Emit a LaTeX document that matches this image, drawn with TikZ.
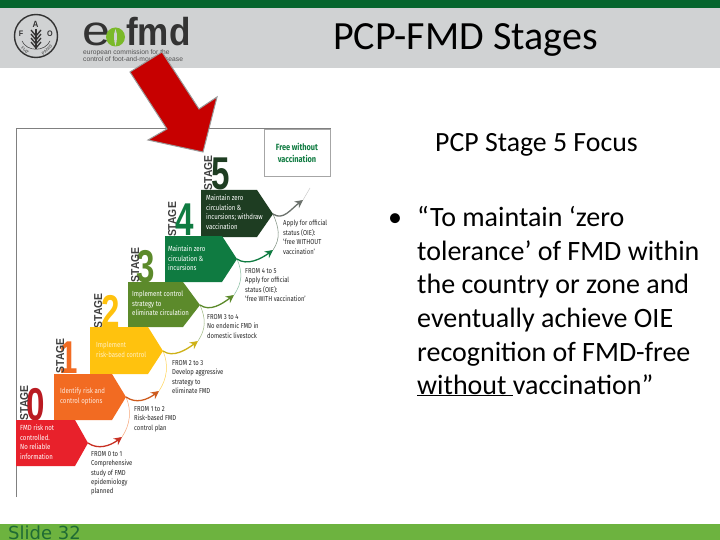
\documentclass[tikz,border=0pt]{standalone}
\usepackage{fontspec}
\setmainfont{Carlito}
\newfontfamily\cond[FakeStretch=0.82]{Fira Sans}
\newfontfamily\digit[FakeStretch=0.72]{Liberation Sans Bold}
\newfontfamily\stg[FakeStretch=0.9]{Liberation Sans Bold}
\newfontfamily\slidefont{DejaVu Sans}
\newfontfamily\logofont{Liberation Sans}
\newfontfamily\logowide[FakeStretch=1.2]{Liberation Sans}
\newfontfamily\logobold[FakeStretch=0.9]{Liberation Sans Bold}
\usetikzlibrary{arrows.meta}
\definecolor{topgreen}{HTML}{05652D}
\definecolor{headgray}{HTML}{D0D2D3}
\definecolor{footgreen}{HTML}{6DB33F}
\definecolor{slidegreen}{HTML}{1F6B34}
\definecolor{cfive}{HTML}{1E3D22}
\definecolor{cfour}{HTML}{0F7B41}
\definecolor{cthree}{HTML}{5C8A2B}
\definecolor{ctwo}{HTML}{FFC20E}
\definecolor{cone}{HTML}{F26B22}
\definecolor{czero}{HTML}{E8212B}
\definecolor{logodark}{HTML}{333333}
\definecolor{logogreen}{HTML}{7AB929}
\tikzset{
  chevtext/.style={anchor=north west,align=left,inner sep=0pt,text=white,font=\cond\fontsize{7.4}{9.4}\selectfont},
  fromtext/.style={anchor=north west,align=left,inner sep=0pt,text=black!85,font=\cond\fontsize{7.2}{9.4}\selectfont},
  bignum/.style={anchor=base,inner sep=0pt,font=\digit\fontsize{46}{46}\selectfont},
  stagelbl/.style={anchor=base,rotate=90,inner sep=0pt,text=black!75,font=\stg\fontsize{11.5}{12}\selectfont},
  mainarc/.style={line width=1.3pt,-{Stealth[length=8pt,width=8pt]}},
  thinarc/.style={line width=.5pt},
  bodytext/.style={anchor=base west,inner sep=0pt,font=\fontsize{28}{28}\selectfont}
}
\begin{document}
\begin{tikzpicture}[x=1pt,y=-1pt]
\useasboundingbox (0,0) rectangle (720,540);
\fill[white] (0,0) rectangle (720,540);
% bars
\fill[topgreen] (0,0) rectangle (720,8);
\fill[headgray] (0,8) rectangle (720,68);
\fill[footgreen] (0,524) rectangle (720,540);
\begin{scope}
\clip (0,0) rectangle (720,540);
\node[anchor=base west,inner sep=0pt,text=slidegreen,font=\slidefont\fontsize{18}{20}\selectfont] (slide) at (8,539) {Slide 32};
\end{scope}
% FAO logo
\draw[logodark,line width=1.4pt] (36,36) circle (21.5);
\draw[logodark,line width=.5pt] (22,41) .. controls (27,52) and (45,52) .. (50,41);
\node[inner sep=0pt,text=logodark,font=\logobold\fontsize{8}{8}\selectfont] (faoF) at (21,34) {F};
\node[inner sep=0pt,text=logodark,font=\logobold\fontsize{9}{9}\selectfont] (faoA) at (35.5,24) {A};
\node[inner sep=0pt,text=logodark,font=\logobold\fontsize{8}{8}\selectfont] (faoO) at (50,34) {O};
\node[inner sep=0pt,rotate=-42,text=logodark,font=\logofont\fontsize{4.2}{5}\selectfont] (faoFiat) at (25,50.5) {FIAT};
\node[inner sep=0pt,rotate=42,text=logodark,font=\logofont\fontsize{4.2}{5}\selectfont] (faoPanis) at (47,50) {PANIS};
\draw[logodark,line width=1.2pt] (36,29) -- (36,49);
\foreach \yy in {30,34,38,42}{
  \draw[logodark,line width=1.3pt] (31,\yy) -- (36,\yy+6) -- (41,\yy);
}
% EUFMD logo
\node[anchor=base west,inner sep=0pt,text=logodark,font=\logowide\fontsize{42}{42}\selectfont] (eufe) at (82,46) {e};
\fill[logogreen] (115.5,37) circle (9.5);
\fill[headgray] (115.5,29) .. controls (118,35) and (117,41) .. (115.5,46) .. controls (114,41) and (113,35) .. (115.5,29) -- cycle;
\node[anchor=base west,inner sep=0pt,text=logodark,font=\logobold\fontsize{39}{39}\selectfont] (euffmd) at (126,46) {fmd};
\node[anchor=north west,inner sep=0pt,align=left,text=logodark!85,font=\logofont\fontsize{6.7}{7}\selectfont] (eufsub) at (83,49) {european commission for the\\control of foot-and-mouth disease};
% frame
\draw[gray,line width=.7pt] (16,497) -- (16,128) -- (331,128);
\node[draw=gray!70,line width=.7pt,minimum width=66pt,minimum height=47pt,inner sep=0pt,align=center,text=cfour,font=\cond\bfseries\fontsize{9}{12}\selectfont] (freebox) at (297,152.5) {Free without\\vaccination};
% numbers
\node[bignum,text=cfive]  (n5) at (220.5,190) {5};
\node[bignum,text=cfour]  (n4) at (185,236) {4};
\node[bignum,text=cthree] (n3) at (146,282) {3};
\node[bignum,text=ctwo]   (n2) at (110.5,327) {2};
\node[bignum,text=cone]   (n1) at (69,373) {1};
\node[bignum,text=czero!80!black] (n0) at (35.5,420) {0};
\node[stagelbl] (s5) at (212,173) {STAGE};
\node[stagelbl] (s4) at (176,219.5) {STAGE};
\node[stagelbl] (s3) at (139,265) {STAGE};
\node[stagelbl] (s2) at (102,311) {STAGE};
\node[stagelbl] (s1) at (64,356) {STAGE};
\node[stagelbl] (s0) at (28,403) {STAGE};
% chevrons
\coordinate (tip5) at (273,214);
\coordinate (tip4) at (237,259);
\coordinate (tip3) at (200,305);
\coordinate (tip2) at (163,351);
\coordinate (tip1) at (126,397);
\coordinate (tip0) at (88,443);
\fill[cfive]  (201,190) -- (257,190) -- (tip5) -- (257,237) -- (201,237) -- cycle;
\fill[cfour]  (165,236) -- (222,236) -- (tip4) -- (222,282) -- (165,282) -- cycle;
\fill[cthree] (128,282) -- (183,282) -- (tip3) -- (183,327) -- (128,327) -- cycle;
\fill[ctwo]   (90,327) -- (148,327) -- (tip2) -- (148,374) -- (90,374) -- cycle;
\fill[cone]   (54,374) -- (112,374) -- (tip1) -- (112,420) -- (54,420) -- cycle;
\fill[czero]  (16,420) -- (75,420) -- (tip0) -- (75,466) -- (16,466) -- cycle;
\node[chevtext] (t5) at (206,195) {Maintain zero\\circulation \&\\incursions; withdraw\\vaccination};
\node[chevtext] (t4) at (168,246) {Maintain zero\\circulation \&\\incursions};
\node[chevtext] (t3) at (132,291) {Implement control\\strategy to\\eliminate circulation};
\node[chevtext,text=white!75!ctwo] (t2) at (96,342) {Implement\\risk-based control};
\node[chevtext,text=white!85!cone] (t1) at (60,388) {Identify risk and\\control options};
\node[chevtext] (t0) at (20,425) {FMD risk not\\controlled.\\No reliable\\information};
% connectors
\coordinate (h0) at (122,437);
\coordinate (h1) at (159,391);
\coordinate (h2) at (198,341);
\coordinate (h3) at (234,295);
\coordinate (h4) at (273,250);
\coordinate (h5) at (303,200);
\coordinate (h5end) at (310,188);
\draw[thinarc,cone!60]   (tip1) .. controls +(6,14) and +(8,-12) .. (h0);
\draw[thinarc,ctwo!70]   (tip2) .. controls +(6,14) and +(8,-12) .. (h1);
\draw[thinarc,cthree!60] (tip3) .. controls +(6,14) and +(8,-12) .. (h2);
\draw[thinarc,cfour!50]  (tip4) .. controls +(6,14) and +(8,-12) .. (h3);
\draw[thinarc,cfive!60]  (tip5) .. controls +(6,14) and +(8,-12) .. (h4);
\draw[thinarc,gray!40] (h5) -- (h5end);
\draw[mainarc,color=czero!70!cone!85!black] (tip0) .. controls +(10,7) and +(-12,9) .. (h0);
\draw[mainarc,color=cone!85!black] (tip1) .. controls +(10,7) and +(-12,9) .. (h1);
\draw[mainarc,color=ctwo!70!cthree] (tip2) .. controls +(10,7) and +(-12,9) .. (h2);
\draw[mainarc,color=cthree] (tip3) .. controls +(10,7) and +(-12,9) .. (h3);
\draw[mainarc,color=cfour] (tip4) .. controls +(10,7) and +(-12,9) .. (h4);
\draw[mainarc,color=gray!80!cfive] (tip5) .. controls +(10,7) and +(-12,9) .. (h5);
% from labels
\node[fromtext] (f5) at (283,220) {Apply for official\\status (OIE):\\‘free WITHOUT\\vaccination’};
\node[fromtext] (f4) at (245,268) {FROM 4 to 5\\Apply for official\\status (OIE):\\‘free WITH vaccination’};
\node[fromtext] (f3) at (207,314) {FROM 3 to 4\\No endemic FMD in\\domestic livestock};
\node[fromtext] (f2) at (172,360) {FROM 2 to 3\\Develop aggressive\\strategy to\\eliminate FMD};
\node[fromtext] (f1) at (134,406) {FROM 1 to 2\\Risk-based FMD\\control plan};
\node[fromtext] (f0) at (91,451) {FROM 0 to 1\\Comprehensive\\study of FMD\\epidemiology\\planned};
% red arrow
\fill[red!78!black,draw=gray!80,line width=1pt,line join=miter] (162,52) -- (199,109) -- (217,97) -- (203,152) -- (148,140) -- (167,129) -- (130,72) -- cycle;
% texts
\node[anchor=base west,inner sep=0pt,font=\fontsize{40}{40}\selectfont] (title) at (333,50) {PCP-FMD Stages};
\node[anchor=base west,inner sep=0pt,font=\fontsize{27.8}{28}\selectfont] (focus) at (435,152) {PCP Stage 5 Focus};
\node[anchor=base west,inner sep=0pt,font=\fontsize{28}{28}\selectfont] (bul) at (388,226) {•};
\node[bodytext] (l1) at (417,226) {“To maintain ‘zero};
\node[bodytext] (l2) at (417,260) {tolerance’ of FMD within};
\node[bodytext] (l3) at (417,293) {the country or zone and};
\node[bodytext] (l4) at (417,327) {eventually achieve OIE};
\node[bodytext] (l5) at (417,361) {recognition of FMD-free};
\node[bodytext] (l6) at (417,394) {\underline{without }vaccination”};
\end{tikzpicture}
\end{document}
